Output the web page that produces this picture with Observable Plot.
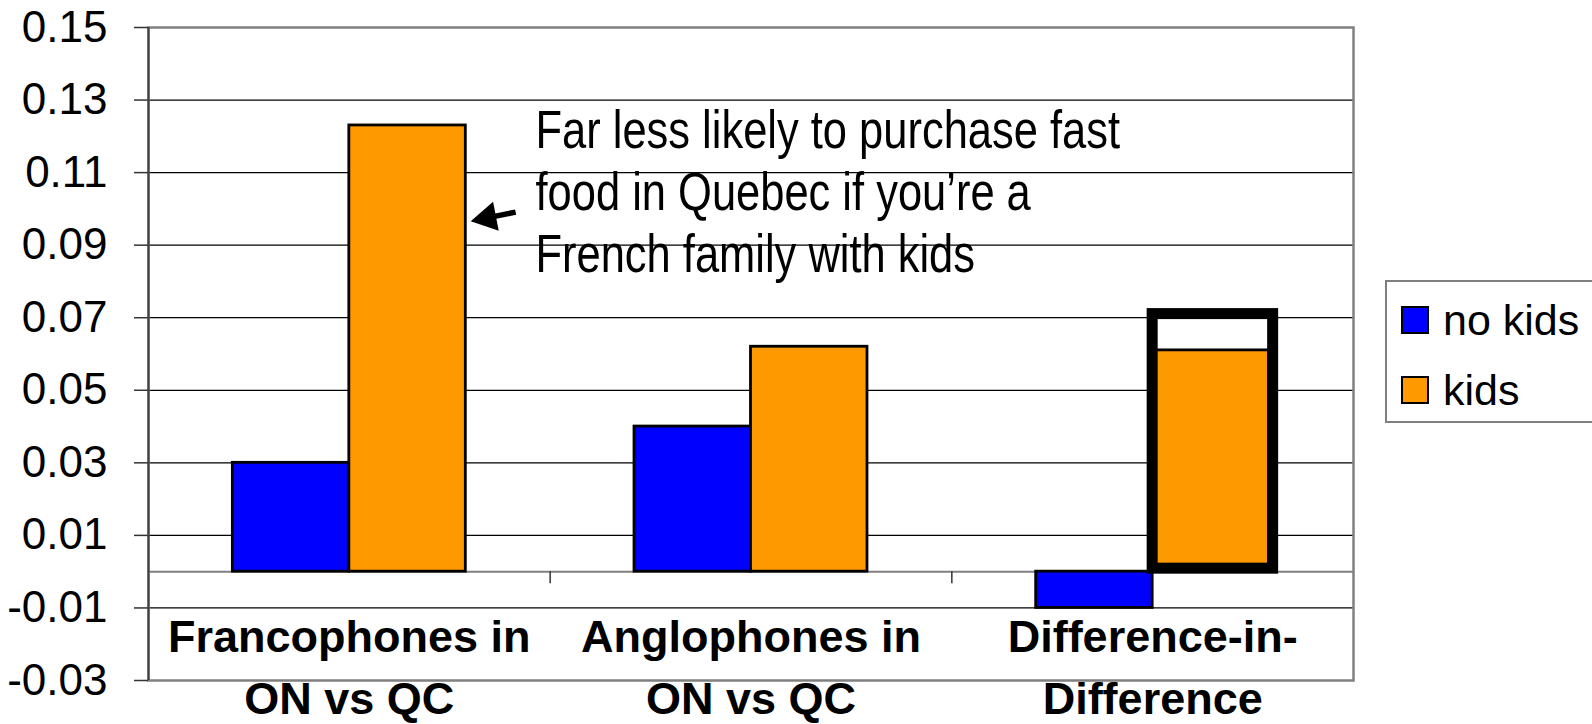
<!DOCTYPE html>
<html>
<head>
<meta charset="utf-8">
<script src="https://cdn.jsdelivr.net/npm/d3@7"></script>
<script src="https://cdn.jsdelivr.net/npm/@observablehq/plot@0.6"></script>
<style>
  html, body { margin: 0; padding: 0; background: #fff; }
  #wrap { position: relative; width: 1592px; height: 724px; overflow: hidden; }
  #legend { position: absolute; left: 1385px; top: 280px; width: 240px; height: 143px;
            border: 2px solid #808080; box-sizing: border-box; background: #fff;
            font-family: "Liberation Sans", Arial, sans-serif; font-size: 43px; }
  .row { position: absolute; left: 14px; display: flex; align-items: center; height: 40px; }
  .sw { width: 24px; height: 24px; border: 2px solid #000; margin-right: 14px; }
</style>
</head>
<body>
<div id="wrap"><div id="legend"></div></div>
<script>
// ---- data ----
const categories = ["Francophones in\nON vs QC", "Anglophones in\nON vs QC", "Difference-in-\nDifference"];
const seriesNames = ["no kids", "kids"];
const noKidsValues = [0.03, 0.04, -0.01];
const kidsValues = [0.123, 0.062, 0.061];
const seriesColors = ["#0000FF", "#FF9900"];
const yTickValues = [-0.03, -0.01, 0.01, 0.03, 0.05, 0.07, 0.09, 0.11, 0.13, 0.15];
const highlight = [{category: 2, series: "kids", top: 0.071}];
const annotationLines = ["Far less likely to purchase fast", "food in Quebec if you\u2019re a", "French family with kids"];
const annotation = [{x: 0.9635, y: 0.129, text: annotationLines.join("\n")}];
// arrow: shaft from tail to head, triangular head pointing at the bar
const arrowShaft = [{x1: 0.914, y1: 0.0991, x2: 0.846, y2: 0.0976}];
const arrowHead = [{x: 0.844, y: 0.0975, angle: -101}];

const barW = 0.29; // bar width in category units
const rows = categories.flatMap((c, i) => [
  {i, series: seriesNames[0], value: noKidsValues[i]},
  {i, series: seriesNames[1], value: kidsValues[i]}
]);
const barX1 = d => d.i + 0.5 - (d.series === seriesNames[0] ? barW : 0);
const barX2 = d => d.i + 0.5 + (d.series === seriesNames[1] ? barW : 0);

const FONT = "'Liberation Sans', Arial, sans-serif";
const NARROW = "'Liberation Sans Narrow', 'Arial Narrow', 'Liberation Sans', Arial, sans-serif";

const chart = Plot.plot({
  width: 1592,
  height: 724,
  marginTop: 27,
  marginBottom: 44,
  marginLeft: 148,
  marginRight: 239,
  style: {fontFamily: FONT, background: "white"},
  x: {domain: [0, categories.length], axis: null},
  y: {domain: [-0.03, 0.15], axis: null},
  color: {domain: seriesNames, range: seriesColors},
  marks: [
    Plot.gridY(yTickValues.slice(1, -1), {stroke: "#000", strokeOpacity: 1, strokeWidth: 1.2}),
    Plot.ruleY([0], {stroke: "#808080", strokeWidth: 2}),
    Plot.rect(rows, {x1: barX1, x2: barX2, y1: 0, y2: "value", fill: "series", stroke: "#000", strokeWidth: 2.8}),
    Plot.frame({stroke: "#808080", strokeWidth: 2.5}),
    Plot.ruleX([0], {stroke: "#404040", strokeWidth: 2}),
    Plot.ruleX([1, 2], {y1: 0, y2: -0.0033, stroke: "#333", strokeWidth: 1.5}),
    Plot.rect(highlight, {
      x1: d => d.category + 0.5,
      x2: d => d.category + 0.5 + barW,
      y1: 0, y2: "top",
      fill: "none", stroke: "#000", strokeWidth: 11, insetRight: -4, insetBottom: 3
    }),
    Plot.axisY({
      ticks: yTickValues, tickFormat: d => d.toFixed(2), tickSize: 14, tickPadding: 27,
      fontSize: 44, stroke: "#333", strokeWidth: 1.5, label: null, fill: "#000"
    }),
    Plot.text(categories, {
      x: (d, i) => i + 0.5, y: -0.01, text: d => d, lineAnchor: "top", dy: 1,
      fontSize: 45, fontWeight: "bold", lineHeight: 1.36, fill: "#000"
    }),
    Plot.text(annotation, {
      x: "x", y: "y", text: "text", textAnchor: "start", lineAnchor: "top",
      fontSize: 53, lineHeight: 1.17, fontFamily: NARROW, fill: "#000"
    }),
    Plot.link(arrowShaft, {x1: "x1", y1: "y1", x2: "x2", y2: "y2", stroke: "#000", strokeWidth: 5.5}),
    Plot.dot(arrowHead, {x: "x", y: "y", symbol: "triangle", r: 11, rotate: "angle", fill: "#000", stroke: "none"})
  ]
});

document.getElementById("wrap").prepend(chart);

// If no narrow face is installed, condense the annotation to ~Arial Narrow proportions
(function () {
  const ctx = document.createElement("canvas").getContext("2d");
  ctx.font = "40px monospace";
  const w0 = ctx.measureText("Far less likely").width;
  ctx.font = "40px 'Liberation Sans Narrow', monospace";
  const w1 = ctx.measureText("Far less likely").width;
  if (w0 === w1) {
    chart.querySelectorAll("text").forEach(t => {
      if (!t.textContent.startsWith("Far less")) return;
      t.querySelectorAll("tspan").forEach(ts => {
        const len = ts.getComputedTextLength();
        ts.setAttribute("textLength", (len * 0.82).toFixed(1));
        ts.setAttribute("lengthAdjust", "spacingAndGlyphs");
      });
    });
  }
})();

// legend
const legend = document.getElementById("legend");
seriesNames.forEach((name, k) => {
  const row = document.createElement("div");
  row.className = "row";
  row.style.top = (18 + k * 70) + "px";
  const sw = document.createElement("div");
  sw.className = "sw";
  sw.style.background = seriesColors[k];
  const lab = document.createElement("span");
  lab.textContent = name;
  row.append(sw, lab);
  legend.append(row);
});
</script>
</body>
</html>
